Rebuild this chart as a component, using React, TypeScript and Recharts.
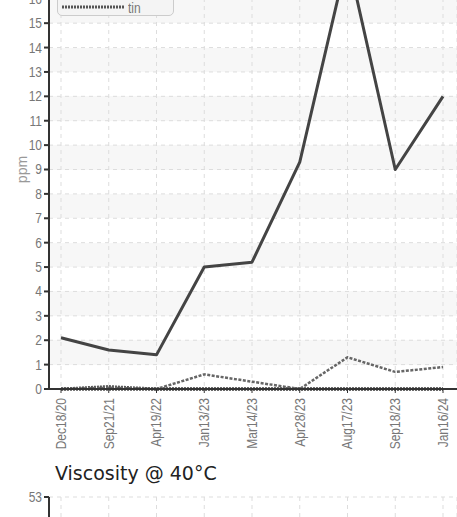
import { CartesianGrid, Line, LineChart, XAxis, YAxis } from "recharts";

// sample dates and wear metals (ppm)
const dates = ["Dec18/20", "Sep21/21", "Apr19/22", "Jan13/23", "Mar14/23", "Apr28/23", "Aug17/23", "Sep18/23", "Jan16/24"];
const iron = [2.1, 1.6, 1.4, 5.0, 5.2, 9.3, 17.7, 9.0, 12.0];
const copper = [0, 0.05, 0, 0.6, 0.3, 0, 1.3, 0.7, 0.9];
const aluminum = [0, 0.1, 0, 0, 0, 0, 0, 0, 0];
const lead = [0, 0, 0, 0, 0, 0, 0, 0, 0];
const tin = [0, 0, 0, 0, 0, 0, 0, 0, 0];
// viscosity points sit below the visible crop
const viscosity: (number | null)[] = [null, null, null, null, null, null, null, null, null];

const ppmTicks = [0, 1, 2, 3, 4, 5, 6, 7, 8, 9, 10, 11, 12, 13, 14, 15, 16, 17, 18];
const viscTicks = [45, 46, 47, 48, 49, 50, 51, 52, 53];

const wearData = dates.map((date, i) => ({
  date,
  iron: iron[i],
  copper: copper[i],
  aluminum: aluminum[i],
  lead: lead[i],
  tin: tin[i],
}));
const viscData = dates.map((date, i) => ({ date, viscosity: viscosity[i] }));

const FONT = "'Liberation Sans', Arial, sans-serif";
const SQUEEZE = 0.8; // fake a narrow face
const AXIS = "#333";
const LABEL = "#777";

const series = [
  { key: "iron", color: "#444", width: 3, dash: undefined as string | undefined },
  { key: "copper", color: "#666", width: 2.5, dash: "3 1.5" },
  { key: "aluminum", color: "#555", width: 3, dash: "2 1" },
  { key: "lead", color: "#555", width: 3, dash: "2 1" },
  { key: "tin", color: "#555", width: 3, dash: "2 1" },
];

const DateTick = ({ x, y, payload }: any) => (
  <g transform={`translate(${x},${y}) rotate(-90) scale(${SQUEEZE},1)`}>
    <text x={0} y={0} textAnchor="end" dominantBaseline="central" fill={LABEL} fontSize={15} fontFamily={FONT}>
      {payload.value}
    </text>
  </g>
);

const ValueTick = ({ x, y, payload }: any) => (
  <g transform={`translate(${x},${y}) scale(${SQUEEZE},1)`}>
    <text x={0} y={0} textAnchor="end" dominantBaseline="central" fill={LABEL} fontSize={15} fontFamily={FONT}>
      {payload.value}
    </text>
  </g>
);

function WearLegend() {
  return (
    <div
      style={{
        position: "absolute",
        left: 57,
        top: 16 - 76,
        width: 117,
        height: 76,
        padding: "3px 0 0 4px",
        boxSizing: "border-box",
        background: "#f4f4f4",
        border: "1px solid #ccc",
        borderRadius: 5,
        fontFamily: FONT,
        fontSize: 15,
        color: LABEL,
      }}
    >
      {series.map((s) => (
        <div key={s.key} style={{ display: "flex", alignItems: "center", height: 14 }}>
          <svg width={63} height={6} style={{ marginRight: 3, flex: "none" }}>
            <line x1={0} y1={3} x2={63} y2={3} stroke={s.color} strokeWidth={s.width} strokeDasharray={s.dash} />
          </svg>
          <span style={{ display: "inline-block", transform: `scaleX(${SQUEEZE})`, transformOrigin: "left center" }}>
            {s.key}
          </span>
        </div>
      ))}
    </div>
  );
}

export default function App() {
  return (
    <div style={{ position: "absolute", left: 0, top: 0, width: 457, height: 517, overflow: "hidden", background: "#fff" }}>
      <div style={{ position: "absolute", left: 0, top: -60 }}>
        <LineChart width={457} height={519} data={wearData} margin={{ top: 10, right: 0, left: 0, bottom: 0 }}>
          <CartesianGrid
            stroke="#ddd"
            strokeDasharray="4 4"
            horizontalFill={["#f7f7f7", "#ffffff"]}
            fillOpacity={1}
          />
          <XAxis
            dataKey="date"
            padding={{ left: 12, right: 14 }}
            height={70}
            interval={0}
            axisLine={{ stroke: AXIS, strokeWidth: 2 }}
            tickLine={{ stroke: AXIS }}
            tickSize={4}
            tickMargin={5}
            tick={<DateTick />}
          />
          <YAxis
            width={49}
            domain={[0, 18]}
            ticks={ppmTicks}
            interval={0}
            axisLine={{ stroke: AXIS, strokeWidth: 2 }}
            tickLine={{ stroke: AXIS, strokeWidth: 2 }}
            tickSize={5}
            tick={<ValueTick />}
            label={{
              value: "ppm",
              angle: -90,
              position: "insideLeft",
              offset: 22,
              style: { textAnchor: "middle", fill: "#999", fontSize: 14, fontFamily: FONT },
            }}
          />
          {series
            .slice()
            .reverse()
            .map((s) => (
              <Line
                key={s.key}
                type="linear"
                dataKey={s.key}
                stroke={s.color}
                strokeWidth={s.width}
                strokeDasharray={s.dash}
                strokeLinejoin="round"
                dot={false}
                isAnimationActive={false}
              />
            ))}
        </LineChart>
      </div>
      <WearLegend />
      <div
        style={{
          position: "absolute",
          left: 55,
          top: 464,
          fontFamily: "'DejaVu Sans', sans-serif",
          fontSize: 19,
          lineHeight: "19px",
          color: "#222",
        }}
      >
        Viscosity @ 40°C
      </div>
      <div style={{ position: "absolute", left: 0, top: 487 }}>
        <LineChart width={457} height={300} data={viscData} margin={{ top: 10, right: 0, left: 0, bottom: 0 }}>
          <CartesianGrid stroke="#ddd" strokeDasharray="4 4" horizontalFill={["#ffffff", "#f7f7f7"]} fillOpacity={1} />
          <XAxis
            dataKey="date"
            padding={{ left: 12, right: 14 }}
            height={62}
            interval={0}
            axisLine={{ stroke: AXIS, strokeWidth: 2 }}
            tick={<DateTick />}
          />
          <YAxis
            width={49}
            domain={[45, 53]}
            ticks={viscTicks}
            interval={0}
            allowDataOverflow
            axisLine={{ stroke: AXIS, strokeWidth: 2 }}
            tickLine={{ stroke: AXIS, strokeWidth: 2 }}
            tickSize={5}
            tick={<ValueTick />}
          />
          <Line
            type="linear"
            dataKey="viscosity"
            stroke="#444"
            strokeWidth={3}
            dot={false}
            isAnimationActive={false}
          />
        </LineChart>
      </div>
    </div>
  );
}
